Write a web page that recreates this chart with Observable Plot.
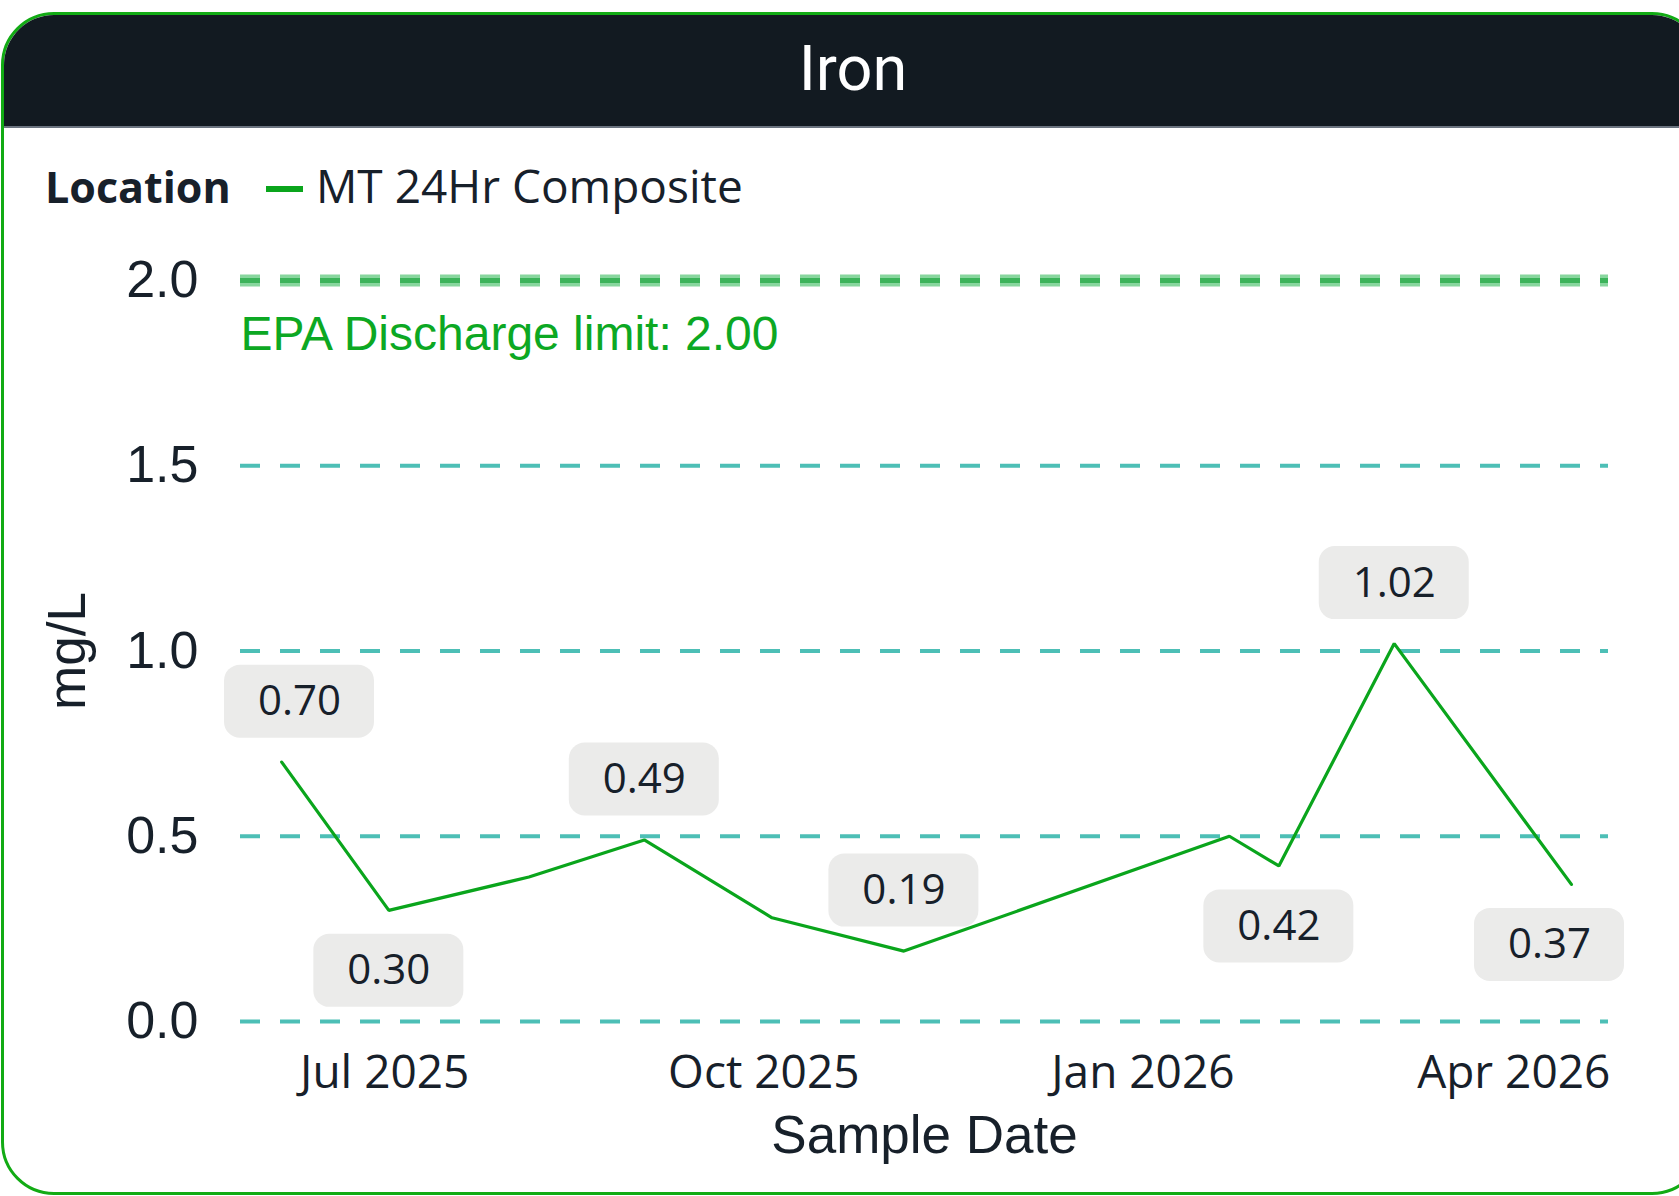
<!DOCTYPE html>
<html>
<head>
<meta charset="utf-8">
<script src="https://cdn.jsdelivr.net/npm/d3@7"></script>
<script src="https://cdn.jsdelivr.net/npm/@observablehq/plot@0.6"></script>
<style>
  html, body { margin: 0; padding: 0; width: 1679px; height: 1196px; overflow: hidden; background: #ffffff; }
  #card { position: absolute; left: 1px; top: 12px; width: 1704px; height: 1183px; box-sizing: border-box;
          border: 3px solid #12ab14; border-radius: 53px; overflow: hidden; background: #ffffff; }
  #header { position: absolute; left: 0; top: 0; right: 0; height: 111px; background: #121a21; border-bottom: 2px solid #6b7480; }
  #title { position: absolute; left: 0; right: 0; top: 22px; text-align: center; color: #ffffff;
           font-family: Roboto, sans-serif; font-size: 63px; line-height: 1; font-weight: 400; }
  .leg { position: absolute; font-family: 'Open Sans', sans-serif; line-height: 1; color: #17202a; white-space: nowrap; }
  #legTitle { left: 45px; top: 165px; font-size: 43px; font-weight: 700; }
  #legSwatch { position: absolute; left: 266px; top: 186px; width: 37px; height: 6px; background: #0aa51c; }
  #legItem { left: 316px; top: 162px; font-size: 46px; }
  #chart { position: absolute; left: 0; top: 220px; }
</style>
</head>
<body>
<div id="card"><div id="header"><div id="title"></div></div></div>
<span class="leg" id="legTitle"></span>
<div id="legSwatch"></div>
<span class="leg" id="legItem"></span>
<div id="chart"></div>
<script>
// ---- data ----
const title = "Iron";
const legendTitle = "Location";
const seriesName = "MT 24Hr Composite";
const yLabel = "mg/L";
const xLabel = "Sample Date";
const sampleDates = ["2025-06-06", "2025-07-02", "2025-08-05", "2025-09-02", "2025-10-03",
                     "2025-11-04", "2026-01-22", "2026-02-03", "2026-03-03", "2026-04-15"];
const ironValues = [0.70, 0.30, 0.39, 0.49, 0.28, 0.19, 0.50, 0.42, 1.02, 0.37];
const labelShown = [true, true, false, true, false, true, false, true, true, true];
const labelSide = ["above", "below", "", "above", "", "above", "", "below", "above", "below"];
const yTicks = [0, 0.5, 1.0, 1.5, 2.0];
const xTicks = ["2025-07-01", "2025-10-01", "2026-01-01", "2026-04-01"];
const xDomain = ["2025-05-27", "2026-04-24"];
const limitValue = 2.0;
const limitLabel = "EPA Discharge limit: 2.00";

// ---- page text ----
document.getElementById("title").textContent = title;
document.getElementById("legTitle").textContent = legendTitle;
document.getElementById("legItem").textContent = seriesName;

// ---- layout ----
const W = 1679, H = 976;
const ML = 240, MR = 71, MT = 60, MB = 175;
const ink = "#17202a";
const lineGreen = "#0aa51c";
const sans = "'Open Sans', sans-serif";
const arial = "'Liberation Sans', Arial, sans-serif";

const data = sampleDates.map((d, i) => ({date: new Date(d), value: ironValues[i], shown: labelShown[i], side: labelSide[i]}));

// keep label boxes inside the plot area (clamped like the original)
const xs = d3.scaleUtc().domain(xDomain.map(d => new Date(d))).range([ML, W - MR]);
const boxW = 150, boxH = 73, gap = 24, over = 16;
const lo = ML - over + boxW / 2, hi = W - MR + over - boxW / 2;
const labels = data.filter(d => d.shown).map(d => ({...d, lx: xs.invert(Math.max(lo, Math.min(hi, xs(d.date))))}));
const above = labels.filter(d => d.side === "above");
const below = labels.filter(d => d.side === "below");

const boxStyle = {x1: "lx", x2: "lx", y1: "value", y2: "value", insetLeft: -boxW / 2, insetRight: -boxW / 2, rx: 16, fill: "#ebebea"};
const labStyle = {x: "lx", y: "value", text: d => d.value.toFixed(2), fontSize: 42, fontFamily: sans, fill: ink};

const chart = Plot.plot({
  width: W, height: H,
  marginLeft: ML, marginRight: MR, marginTop: MT, marginBottom: MB,
  style: {background: "transparent", overflow: "visible"},
  x: {type: "utc", domain: xDomain.map(d => new Date(d)), label: null},
  y: {domain: [0, 2], label: null},
  marks: [
    Plot.ruleY(yTicks, {stroke: "#4dbfb6", strokeWidth: 4, strokeDasharray: "20,20"}),
    Plot.ruleY([limitValue], {stroke: "#88d69e", strokeWidth: 12, strokeDasharray: "20,20"}),
    Plot.ruleY([limitValue], {stroke: "#3cb35a", strokeWidth: 5, strokeDasharray: "20,20"}),
    Plot.text([limitValue], {y: d => d, text: () => limitLabel, frameAnchor: "left", textAnchor: "start", lineAnchor: "bottom",
      dx: 0, dy: 69, fontSize: 48, fontFamily: arial, fill: "#0ca823"}),
    Plot.line(data, {x: "date", y: "value", stroke: lineGreen, strokeWidth: 3.2, strokeLinejoin: "miter"}),
    Plot.rect(above, {...boxStyle, insetTop: -(gap + boxH), insetBottom: gap}),
    Plot.rect(below, {...boxStyle, insetTop: gap, insetBottom: -(gap + boxH)}),
    Plot.text(above, {...labStyle, dy: -(gap + boxH / 2)}),
    Plot.text(below, {...labStyle, dy: gap + boxH / 2}),
    Plot.axisY(yTicks, {tickSize: 0, tickPadding: 42, tickFormat: d => d.toFixed(1), fontSize: 52,
      fontFamily: arial, color: ink, label: null}),
    Plot.axisX(xTicks.map(d => new Date(d)), {tickSize: 0, tickPadding: 34, tickFormat: d3.utcFormat("%b %Y"), fontSize: 46,
      fontFamily: sans, color: ink, label: null}),
    Plot.text([yLabel], {text: d => d, frameAnchor: "left", textAnchor: "middle", lineAnchor: "middle", rotate: -90, dx: -172,
      fontSize: 53, fontFamily: arial, fill: ink}),
    Plot.text([xLabel], {text: d => d, frameAnchor: "bottom", textAnchor: "middle", lineAnchor: "middle", dy: 115,
      fontSize: 53, fontFamily: arial, fill: ink})
  ]
});
document.getElementById("chart").appendChild(chart);
</script>
</body>
</html>
